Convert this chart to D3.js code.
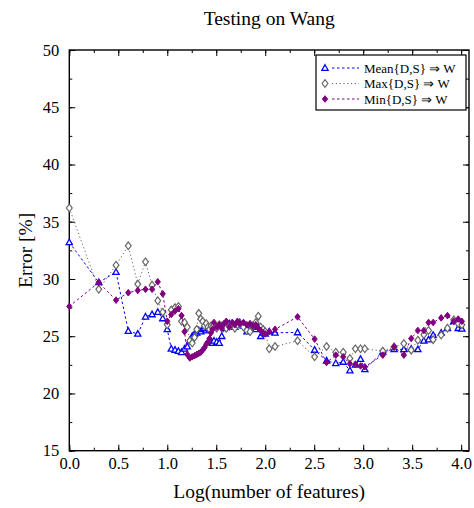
<!DOCTYPE html>
<html lang="en">
<head>
<meta charset="UTF-8">
<title>Testing on Wang</title>
<script src="https://cdn.jsdelivr.net/npm/d3@7"></script>
<style>
    body { margin: 0; background: #fff; }
    svg text { font-family: "Liberation Serif", "Times New Roman", serif; fill: #000; }
</style>
</head>
<body>
<svg id="chart" width="474" height="508"></svg>
<script>
    // log10(number of features), shared by the three series
    let featLog = [0, 0.301, 0.477, 0.602, 0.699, 0.778, 0.845, 0.903, 0.954, 1.0,
        1.041, 1.079, 1.114, 1.146, 1.176, 1.204, 1.23, 1.255, 1.279, 1.301,
        1.322, 1.342, 1.362, 1.38, 1.398, 1.415, 1.431, 1.447, 1.462, 1.477,
        1.505, 1.531, 1.556, 1.58, 1.602, 1.633, 1.663, 1.69, 1.716, 1.74,
        1.778, 1.813, 1.845, 1.875, 1.903, 1.929, 1.954, 1.978, 2.0, 2.041, 2.1,
        2.33, 2.504, 2.626, 2.72, 2.796, 2.864, 2.92, 2.973, 3.017, 3.2,
        3.316, 3.415, 3.49, 3.558, 3.619, 3.667, 3.714, 3.796, 3.86, 3.925, 3.97, 4.007]

    let meanErr = [33.2, 29.7, 30.6, 25.45, 25.2, 26.7, 26.9, 27.1, 26.55, 25.6,
        23.9, 23.8, 23.7, 23.6, 23.9, 24.1, 24.6, 25.0, 25.2, 25.3,
        25.5, 25.4, 25.6, 25.7, 25.5, 25.7, 25.6, 24.5, 24.4, 24.6,
        24.5, 24.4, 25.0, 25.7, 25.9, 26.1, 26.0, 25.8, 26.0, 26.2,
        25.9, 25.4, 25.7, 25.9, 25.6, 25.8, 25.0, 25.3, 25.2, 25.4, 25.3,
        25.33, 23.8, 22.86, 22.63, 22.75, 22.0, 22.5, 23.0, 22.1, 23.64,
        23.85, 23.85, 23.9, 23.85, 24.6, 24.7, 25.1, 25.3, 25.7, 26.3, 25.7, 25.65]

    let maxErr = [36.2, 29.1, 31.2, 32.9, 29.55, 31.5, 29.46, 28.1, 27.1, 26.0,
        27.3, 27.5, 27.6, 26.3, 26.2, 25.8, 24.6, 24.4, 24.9, 25.6,
        27.0, 26.5, 26.3, 25.9, 26.1, 25.8, 25.6, 25.9, 25.8, 26.0,
        25.7, 26.0, 25.9, 26.0, 25.7, 25.9, 26.1, 25.7, 26.0, 26.1,
        25.8, 25.5, 25.4, 25.9, 26.2, 26.75, 25.8, 25.6, 25.4, 23.9, 24.1,
        24.6, 23.2, 24.1, 23.6, 23.6, 23.06, 23.9, 23.9, 23.9, 23.7,
        24.07, 24.36, 23.78, 24.65, 25.14, 25.5, 24.7, 25.1, 25.7, 26.43, 26.1, 26.0]

    let minErr = [27.6, 29.7, 28.15, 28.8, 29.0, 29.1, 29.1, 29.75, 28.7, 26.3,
        26.9, 27.2, 27.4, 26.8, 25.4, 23.4, 23.1, 23.2, 23.3, 23.4,
        23.5, 23.6, 23.8, 24.0, 24.3, 24.5, 24.8, 25.3, 25.6, 26.2,
        25.8, 26.0, 25.7, 26.1, 26.3, 25.8, 26.2, 26.0, 26.3, 26.1,
        26.2, 26.0, 26.1, 25.9, 26.0, 25.7, 25.5, 25.3, 25.2, 25.4, 25.6,
        26.69, 24.75, 22.7, 23.35, 23.2, 22.6, 22.55, 22.4, 22.33, 23.35,
        24.07, 23.35, 24.8, 25.5, 25.5, 26.2, 26.2, 26.6, 26.8, 26.3, 26.5, 26.3]

    let xTicks = [0, 0.5, 1.0, 1.5, 2.0, 2.5, 3.0, 3.5, 4.0]
    let yTicks = [15, 20, 25, 30, 35, 40, 45, 50]
    let seriesNames = ["Mean{D,S} \u21D2 W", "Max{D,S} \u21D2 W", "Min{D,S} \u21D2 W"]

    let svg = d3.select("#chart")

    let mLeft = 69.3, mRight = 469, mTop = 50, mBottom = 450.7

    let x_scale = d3.scaleLinear().domain([0, 4.08]).range([mLeft, mRight])
    let y_scale = d3.scaleLinear().domain([15, 50]).range([mBottom, mTop])

    // minor ticks (every quarter / every 2.5)
    let xMinor = d3.range(0, 4.08, 0.25)
    let yMinor = d3.range(15, 50.1, 2.5)

    function tickAxis(axis, tr, vals, size, labels, pad) {
        let g = svg.append("g")
            .attr("transform", tr)
            .call(axis.tickValues(vals).tickSizeInner(-size).tickSizeOuter(0).tickPadding(pad)
                .tickFormat(labels ? labels : ""))
        g.select(".domain").remove()
        g.selectAll("line").attr("stroke", "#000").attr("stroke-width", 1)
        g.selectAll("text").attr("font-size", 16.5)
        return g
    }

    // bottom / top
    tickAxis(d3.axisBottom(x_scale), `translate(0,${mBottom})`, xMinor, 3, null, 0)
    tickAxis(d3.axisBottom(x_scale), `translate(0,${mBottom})`, xTicks, 6, d3.format(".1f"), 7)
    tickAxis(d3.axisTop(x_scale), `translate(0,${mTop})`, xMinor, 3, null, 0)
    tickAxis(d3.axisTop(x_scale), `translate(0,${mTop})`, xTicks, 6, null, 0)
    // left / right
    tickAxis(d3.axisLeft(y_scale), `translate(${mLeft},0)`, yMinor, 3, null, 0)
    tickAxis(d3.axisLeft(y_scale), `translate(${mLeft},0)`, yTicks, 6, d3.format("d"), 10)
    tickAxis(d3.axisRight(y_scale), `translate(${mRight},0)`, yMinor, 3, null, 0)
    tickAxis(d3.axisRight(y_scale), `translate(${mRight},0)`, yTicks, 6, null, 0)

    // frame
    svg.append("rect")
        .attr("x", mLeft).attr("y", mTop)
        .attr("width", mRight - mLeft).attr("height", mBottom - mTop)
        .attr("fill", "none").attr("stroke", "#000").attr("stroke-width", 1.4)

    // series
    let tri = "M0,-3.3L3.1,2.3L-3.1,2.3Z"
    let dia = "M0,-3.8L2.9,0L0,3.8L-2.9,0Z"
    let dia2 = "M0,-3.3L2.6,0L0,3.3L-2.6,0Z"
    let series = [
        {name: seriesNames[0], values: meanErr, color: "#0000ff", dash: "2.5,2.5", shape: tri, fill: "#fff", width: 1.3},
        {name: seriesNames[1], values: maxErr, color: "#666666", dash: "1.2,2.6", shape: dia, fill: "#fff", width: 1.2},
        {name: seriesNames[2], values: minErr, color: "#800080", dash: "2.5,2.5", shape: dia2, fill: "#800080", width: 1}
    ]

    let line = d3.line()
        .x(d => x_scale(d[0]))
        .y(d => y_scale(d[1]))

    series.forEach(s => {
        let pts = featLog.map((v, i) => [v, s.values[i]])
        svg.append("path")
            .datum(pts)
            .attr("d", line)
            .attr("fill", "none")
            .attr("stroke", s.color)
            .attr("stroke-width", 1)
            .attr("stroke-dasharray", s.dash)
        svg.append("g").selectAll("path")
            .data(pts)
            .join("path")
            .attr("d", s.shape)
            .attr("transform", d => `translate(${x_scale(d[0])},${y_scale(d[1])})`)
            .attr("fill", s.fill)
            .attr("stroke", s.color)
            .attr("stroke-width", s.width)
    })

    // legend
    let lg = svg.append("g")
    lg.append("rect")
        .attr("x", 316).attr("y", 55).attr("width", 150).attr("height", 55)
        .attr("fill", "#fff").attr("stroke", "#000").attr("stroke-width", 1.2)
    series.forEach((s, i) => {
        let yy = 68 + i * 15.5
        lg.append("line")
            .attr("x1", 332).attr("x2", 359).attr("y1", yy).attr("y2", yy)
            .attr("stroke", s.color).attr("stroke-dasharray", s.dash)
        lg.append("path")
            .attr("d", s.shape)
            .attr("transform", `translate(325,${yy})`)
            .attr("fill", s.fill).attr("stroke", s.color).attr("stroke-width", s.width)
        lg.append("text")
            .attr("x", 364).attr("y", yy + 4.5)
            .attr("font-size", 13)
            .text(s.name)
    })

    // title and axis labels
    svg.append("text")
        .attr("x", (mLeft + mRight) / 2).attr("y", 25)
        .attr("text-anchor", "middle")
        .attr("font-size", 19.5)
        .text("Testing on Wang")

    svg.append("text")
        .attr("x", (mLeft + mRight) / 2).attr("y", 498)
        .attr("text-anchor", "middle")
        .attr("font-size", 19.5)
        .text("Log(number of features)")

    svg.append("text")
        .attr("transform", "rotate(-90)")
        .attr("x", -(mTop + mBottom) / 2).attr("y", 32)
        .attr("text-anchor", "middle")
        .attr("font-size", 19.5)
        .text("Error [%]")
</script>
</body>
</html>
